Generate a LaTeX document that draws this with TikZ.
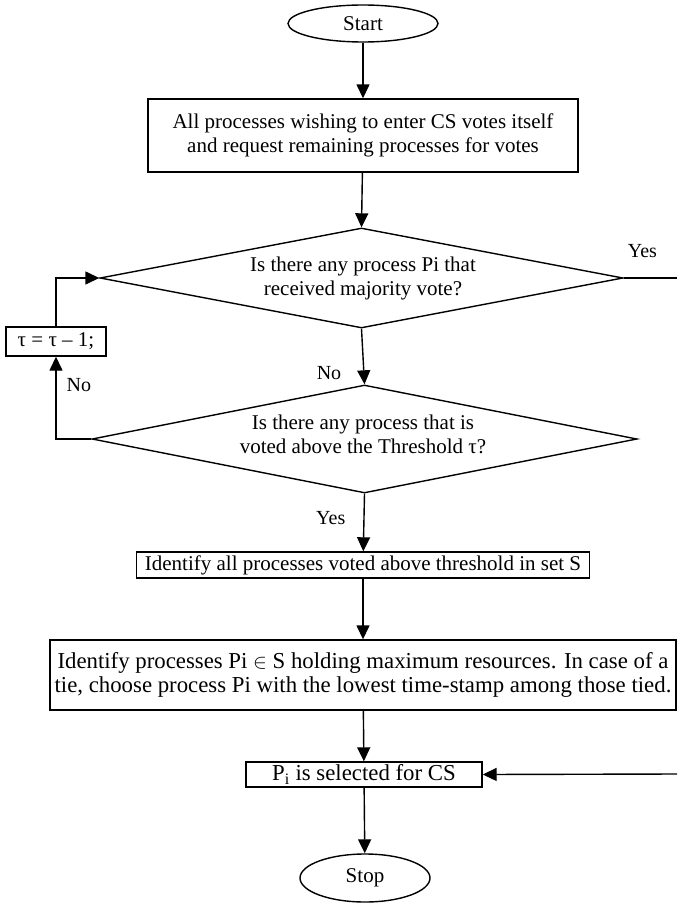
\documentclass[tikz,border=0pt]{standalone}
\usepackage{fontspec}
\setmainfont{Liberation Serif}
\usetikzlibrary{shapes.geometric,arrows.meta}
\begin{document}
\begin{tikzpicture}[x=1pt,y=-1pt,
  font=\fontsize{21}{24}\selectfont,
  line width=1.4pt,
  every node/.style={inner sep=0pt, line width=1.4pt},
  terminal/.style={ellipse, draw, minimum width=150pt, minimum height=37pt},
  procbox/.style={rectangle, draw, align=center},
  decision/.style={diamond, draw},
  flow/.style={-{Triangle[length=14pt,width=13pt]}},
  lbl/.style={font=\fontsize{20}{22}\selectfont},
  wide/.style={font=\fontsize{22.8}{24}\selectfont}
]
\useasboundingbox (0,0) rectangle (677,907);

% terminals
\node[terminal] (start) at (363,23.5) {Start};
\node[terminal, minimum width=130pt, minimum height=48pt] (stop) at (365,878) {Stop};

% process boxes
\node[procbox, minimum width=430pt, minimum height=73pt] (vote) at (363,135.5)
  {All processes wishing to enter CS votes itself\\and request remaining processes for votes};
\node[procbox, minimum width=453pt, minimum height=26pt] (setS) at (363,565)
  {Identify all processes voted above threshold in set S};
\node[procbox, wide, minimum width=626pt, minimum height=70pt] (pick) at (363,675)
  {Identify processes Pi \ensuremath{\in} S holding maximum resources. In case of a\\tie, choose process Pi with the lowest time-stamp among those tied.};
\node[procbox, wide, minimum width=236pt, minimum height=25pt] (sel) at (364,774.5)
  {P\textsubscript{i} is selected for CS};
\node[procbox, minimum width=100pt, minimum height=29pt] (tau) at (56,341.5)
  {τ = τ – 1;};

% decisions
\node[decision, minimum width=523pt, minimum height=100pt] (maj) at (361.5,278) {};
\node[align=center] (majtxt) at (363,278) {Is there any process Pi that\\received majority vote?};
\node[decision, minimum width=545pt, minimum height=108pt] (thr) at (364.5,439) {};
\node[align=center] (thrtxt) at (363,434) {Is there any process that is\\voted above the Threshold τ?};

% free ends at the right margin
\coordinate (yesout) at (677,278);
\coordinate (retin) at (677,774);

% main flow
\draw[flow] (start) -- (vote);
\draw[flow] (vote) -- (maj.north);
\draw[flow] (maj.south) -- (thr.north) node[pos=0.8, left=22pt, lbl] (no1) {No};
\draw[flow] (thr.south) -- (setS) node[pos=0.42, left=18pt, lbl] (yes2) {Yes};
\draw[flow] (setS) -- (pick);
\draw[flow] (pick) -- (sel);
\draw[flow] (sel) -- (stop);

% yes branch out to the right, and its return
\draw (maj.east) -- (yesout) node[pos=0.35, above=20pt, lbl] (yes1) {Yes};
\draw[flow] (retin) -- (sel.east);

% loop back through the threshold update
\draw[flow] (thr.west) -- (tau.south |- thr.west) -- (tau.south)
  node[pos=0.65, right=10pt, lbl] (no2) {No};
\draw[flow] (tau.north) -- (tau.north |- maj.west) -- (maj.west);
\end{tikzpicture}
\end{document}
